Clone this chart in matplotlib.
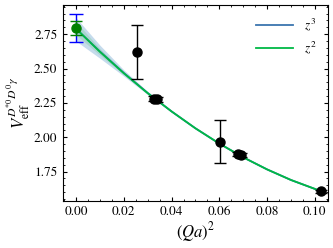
import matplotlib
matplotlib.use("Agg")
import matplotlib.pyplot as plt
from matplotlib.ticker import AutoMinorLocator, MultipleLocator

plt.rcParams['font.family'] = 'serif'
plt.rcParams['font.serif'] = ['STIXGeneral', 'Liberation Serif', 'DejaVu Serif']
plt.rcParams['mathtext.fontset'] = 'stix'

# lattice data points (Qa)^2, V_eff, error
qa2 = [0.0257, 0.0325, 0.0337, 0.0602, 0.0680, 0.0692, 0.1025]
veff = [2.62, 2.280, 2.275, 1.968, 1.878, 1.870, 1.607]
verr = [0.195, 0.018, 0.018, 0.155, 0.015, 0.015, 0.010]

# extrapolated values at (Qa)^2 = 0
v0_z3, err0_z3 = 2.795, 0.105
v0_z2, err0_z2 = 2.795, 0.050

# fit curves
curve_x = [0.0, 0.01, 0.02, 0.03, 0.04, 0.05, 0.06, 0.07, 0.08, 0.09, 0.1025]
curve_z2 = [2.79, 2.622, 2.466, 2.321, 2.188, 2.065, 1.954, 1.854, 1.766, 1.689, 1.608]
curve_z3 = [2.79, 2.624, 2.468, 2.322, 2.188, 2.065, 1.954, 1.854, 1.766, 1.689, 1.608]
band_z3_lo = [2.70, 2.575, 2.445, 2.310, 2.183, 2.062, 1.951, 1.851, 1.763, 1.686, 1.605]
band_z3_hi = [2.87, 2.670, 2.490, 2.333, 2.193, 2.068, 1.957, 1.857, 1.769, 1.692, 1.611]
band_z2_lo = [2.745, 2.598, 2.455, 2.315, 2.185, 2.063, 1.952, 1.852, 1.764, 1.687, 1.606]
band_z2_hi = [2.840, 2.645, 2.478, 2.327, 2.191, 2.067, 1.956, 1.856, 1.768, 1.691, 1.610]

fig = plt.figure(figsize=(3.33, 2.48), dpi=100)
ax = fig.add_axes([0.189, 0.19, 0.796, 0.79])

ax.fill_between(curve_x, band_z3_lo, band_z3_hi, color='#9fc3e0', alpha=0.6, lw=0)
ax.fill_between(curve_x, band_z2_lo, band_z2_hi, color='#8fd0b0', alpha=0.5, lw=0)
ax.plot(curve_x, curve_z3, color='#3b75af', lw=1.3, label='$z^3$')
ax.plot(curve_x, curve_z2, color='#00b945', lw=1.3, label='$z^2$')

ax.errorbar(qa2, veff, yerr=verr, fmt='o', color='black', ms=6.5,
            capsize=4.5, elinewidth=1, capthick=1)
ax.errorbar([0.0], [v0_z3], yerr=[err0_z3], fmt='none', ecolor='blue',
            capsize=5, elinewidth=1, capthick=1)
ax.errorbar([0.0], [v0_z2], yerr=[err0_z2], fmt='o', color='green', ms=6.5,
            capsize=4.5, elinewidth=1, capthick=1)

ax.set_xlim(-0.0055, 0.1055)
ax.set_ylim(1.537, 2.963)
ax.xaxis.set_major_locator(MultipleLocator(0.02))
ax.yaxis.set_major_locator(MultipleLocator(0.25))
ax.xaxis.set_minor_locator(AutoMinorLocator(4))
ax.yaxis.set_minor_locator(AutoMinorLocator(5))
ax.tick_params(which='both', direction='in', top=True, right=True, labelsize=9.5)
ax.tick_params(which='major', length=3, pad=4)
ax.tick_params(which='minor', length=1.5)

ax.set_xlabel('$(Qa)^2$', fontsize=12, labelpad=1)
ax.set_ylabel(r'$V_{\rm eff}^{D^{*0}D^{0}\gamma}$', fontsize=12, labelpad=1)
ax.legend(loc='upper right', frameon=False, fontsize=9.5, handlelength=2.8)

fig.savefig('out.png', dpi=100)
